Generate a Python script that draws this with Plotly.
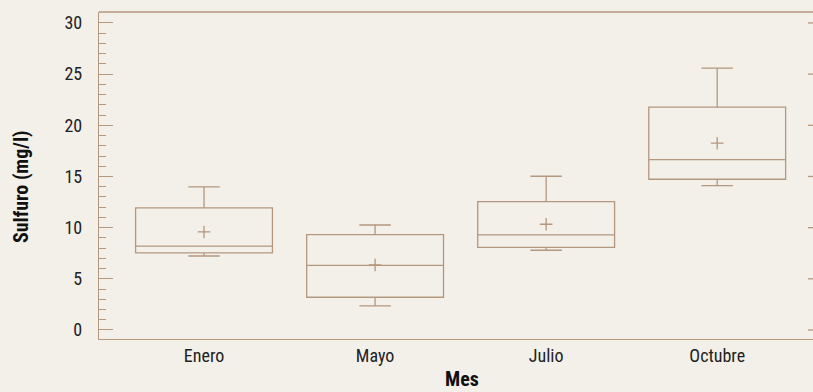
import plotly.graph_objects as go

# monthly sulfide stats (mg/l)
meses = ["Enero", "Mayo", "Julio", "Octubre"]
minimo = [7.23, 2.35, 7.79, 14.1]
q1 = [7.53, 3.2, 8.08, 14.73]
mediana = [8.2, 6.32, 9.29, 16.65]
q3 = [11.93, 9.32, 12.54, 21.77]
maximo = [13.98, 10.26, 15.02, 25.58]
media = [9.58, 6.35, 10.33, 18.25]

y_ticks = [0, 5, 10, 15, 20, 25, 30]

BG = "#F3F0EA"
LINE = "#B5977D"
FONT = "Roboto Condensed, Liberation Sans Narrow, Roboto, sans-serif"

W, H = 813, 392
L, T, B = 99, 12, 53
PW, PH = W - L, H - T - B

fig = go.Figure()

fig.add_trace(go.Box(
    x=meses,
    q1=q1, median=mediana, q3=q3,
    lowerfence=minimo, upperfence=maximo,
    width=0.8,
    whiskerwidth=0.23,
    fillcolor="rgba(0,0,0,0)",
    line=dict(color=LINE, width=1.3),
    showlegend=False,
    hoverinfo="skip",
))

fig.add_trace(go.Scatter(
    x=meses, y=media,
    mode="markers",
    marker=dict(symbol="cross-thin", size=9, line=dict(color=LINE, width=1.3)),
    showlegend=False,
))

fig.update_layout(
    width=W, height=H,
    paper_bgcolor=BG, plot_bgcolor=BG,
    margin=dict(l=L, r=0, t=T, b=B),
    font=dict(family=FONT, size=18, color="#222222"),
    xaxis=dict(
        range=[-0.614, 3.56],
        showline=True, linecolor=LINE, linewidth=1.3,
        showgrid=False, zeroline=False, ticks="",
        tickfont=dict(size=18),
    ),
    yaxis=dict(
        range=[-0.88, 31.07],
        tickvals=y_ticks,
        showline=True, linecolor=LINE, linewidth=1.3,
        showgrid=False, zeroline=False,
        ticks="inside", ticklen=14, tickcolor=LINE, tickwidth=1.3,
        minor=dict(dtick=1, ticks="inside", ticklen=7, tickcolor=LINE, tickwidth=1.3),
        tickfont=dict(size=18),
        ticklabelstandoff=12,
    ),
    annotations=[
        dict(text="<b>Sulfuro (mg/l)</b>", xref="paper", yref="paper",
             x=(21 - L) / PW, y=1 - (187 - T) / PH,
             xanchor="center", yanchor="middle",
             textangle=-90, showarrow=False, font=dict(size=20, color="#111111")),
        dict(text="<b>Mes</b>", xref="paper", yref="paper",
             x=(462 - L) / PW, y=-(379 - H + B) / PH,
             xanchor="center", yanchor="middle",
             showarrow=False, font=dict(size=20, color="#111111")),
    ],
)

# top frame line; the right frame edge sits just outside the window
fig.add_shape(type="line", xref="paper", yref="paper", x0=0, x1=1, y0=1, y1=1,
              line=dict(color=LINE, width=1.3))
# major ticks of the mirrored right axis, only their tips are visible
for v in y_ticks:
    fig.add_shape(type="line", xref="paper", yref="y", x0=1 - 5 / PW, x1=1, y0=v, y1=v,
                  line=dict(color=LINE, width=1.3))

# drop the default 8px page margin so the figure fills the window
fig.write_html("out.html", config={"displayModeBar": False},
               post_script="document.body.style.margin='0';")
